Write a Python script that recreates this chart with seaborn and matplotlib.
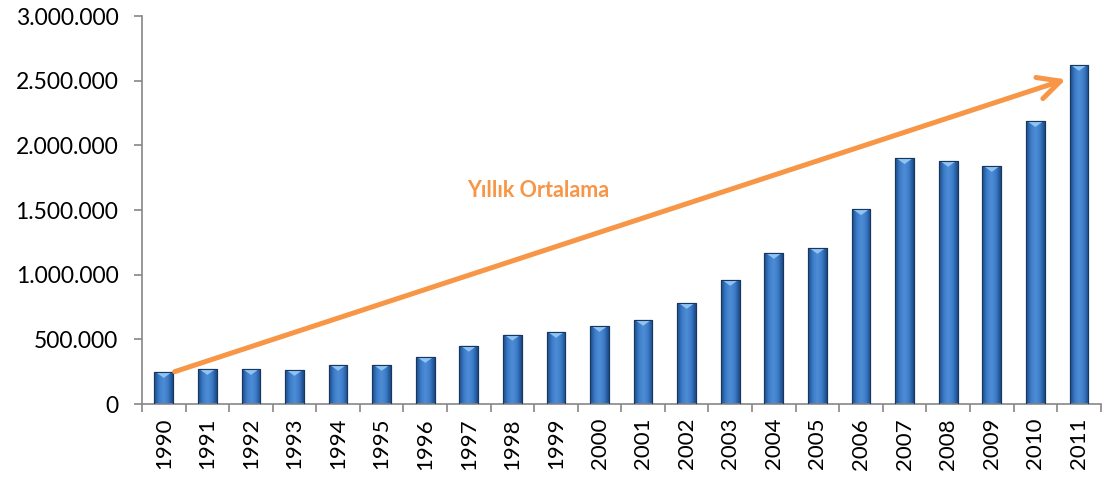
import matplotlib
matplotlib.use("Agg")
import matplotlib.pyplot as plt
import numpy as np
import pandas as pd
import seaborn as sns
from matplotlib.colors import LinearSegmentedColormap
from matplotlib.patches import Polygon
from matplotlib.ticker import FuncFormatter, FixedLocator

years = [str(y) for y in range(1990, 2012)]
values = [247000, 270000, 270000, 263000, 302000, 302000, 363000, 450000,
          535000, 557000, 603000, 650000, 781000, 959000, 1168000, 1206000,
          1505000, 1900000, 1879000, 1840000, 2187000, 2621000]
y_ticks = [0, 500000, 1000000, 1500000, 2000000, 2500000, 3000000]
trend_label = "Yıllık Ortalama"
trend_start = (0.25, 250000)
trend_end = (20.7, 2510000)

ORANGE = "#F79646"
AXIS_GREY = "#868686"

sns.set_style("white")
plt.rcParams["font.family"] = ["Lato", "DejaVu Sans"]

df = pd.DataFrame({"year": years, "value": values})

fig = plt.figure(figsize=(11.04, 4.82), dpi=100)
ax = fig.add_axes([0.1286, 0.1618, 0.8684, 0.805])

sns.barplot(data=df, x="year", y="value", color="#2F6DB5", width=0.43,
            edgecolor="#17375E", linewidth=0.8, ax=ax, zorder=2)

# bevelled look: horizontal gradient clipped to each bar + light cap
grad = LinearSegmentedColormap.from_list(
    "bevel", ["#1C4A85", "#3B7BC8", "#4F8ED6", "#3B7BC8", "#1C4A85"])
row = np.linspace(0, 1, 64).reshape(1, -1)
for p in list(ax.patches):
    x0, y0 = p.get_x(), p.get_y()
    w, h = p.get_width(), p.get_height()
    im = ax.imshow(row, cmap=grad, extent=(x0, x0 + w, y0, y0 + h),
                   aspect="auto", zorder=2.5, interpolation="bicubic")
    im.set_clip_path(p)
    cap = h and 45000
    ax.add_patch(Polygon([(x0 + 0.03, y0 + h), (x0 + w - 0.03, y0 + h),
                          (x0 + w / 2, y0 + h - cap)],
                         closed=True, facecolor="#8EC3F2", edgecolor="none",
                         zorder=3))
    ax.add_patch(plt.Rectangle((x0, y0), w, h, fill=False,
                               edgecolor="#17375E", linewidth=0.8, zorder=3.5))

ax.set_xlim(-0.5, len(years) - 0.5)
ax.set_ylim(0, 3000000)

ax.yaxis.set_major_locator(FixedLocator(y_ticks))
ax.yaxis.set_major_formatter(
    FuncFormatter(lambda v, _: f"{int(v):,}".replace(",", ".")))
ax.set_xticks(range(len(years)))
ax.set_xticklabels(years, rotation=90)
ax.xaxis.set_minor_locator(FixedLocator(np.arange(-0.5, len(years), 1.0)))
ax.tick_params(axis="x", which="major", length=0, pad=10, labelsize=16,
               labelcolor="black")
ax.tick_params(axis="x", which="minor", bottom=True, length=6, width=1.2,
               color=AXIS_GREY)
ax.tick_params(axis="y", left=True, length=6, width=1.2, color=AXIS_GREY,
               labelsize=16.5, labelcolor="black", pad=11)

sns.despine(ax=ax)
for side in ["left", "bottom"]:
    ax.spines[side].set_color(AXIS_GREY)
    ax.spines[side].set_linewidth(1.2)
ax.set_xlabel("")
ax.set_ylabel("")

ax.annotate("", xy=trend_end, xytext=trend_start,
            arrowprops=dict(arrowstyle="->,head_length=0.8,head_width=0.4",
                            color=ORANGE, lw=3.6, mutation_scale=20,
                            shrinkA=0, shrinkB=0),
            zorder=5)
ax.text(8.6, 1650000, trend_label, color=ORANGE, fontsize=15.5,
        fontweight="bold", ha="center", va="center", zorder=5)

fig.savefig("out.png", dpi=100)
